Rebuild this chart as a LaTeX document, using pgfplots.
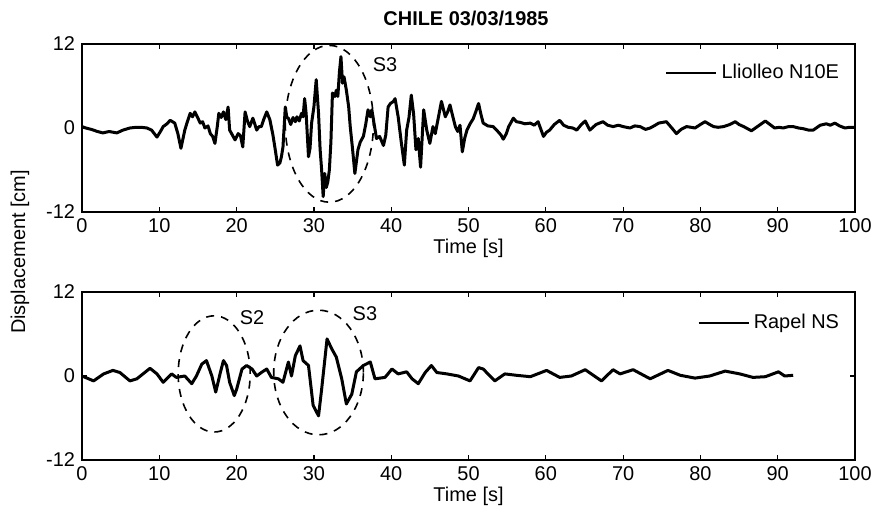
\documentclass[border=0pt]{standalone}
\usepackage{fontspec}
\setmainfont{Liberation Sans}
\usepackage{pgfplots}
\pgfplotsset{compat=1.18}
\begin{document}
\begin{tikzpicture}
\path[use as bounding box] (0bp,0bp) rectangle (438.5bp,-259bp);
\pgfplotsset{quake/.style={
  scale only axis, width=386.5bp, height=84bp,
  xmin=0, xmax=100, ymin=-12, ymax=12,
  xtick={0,10,...,100}, ytick={-12,0,12},
  tick align=inside, major tick length=2.5bp,
  axis line style={line width=0.7bp, black},
  every tick/.style={line width=0.6bp, black},
  tick label style={font=\fontsize{10}{12}\selectfont},
  label style={font=\fontsize{10}{12}\selectfont},
  xlabel={Time [s]}, xlabel style={yshift=4bp},
  /pgf/number format/assume math mode=true,
  legend style={draw=none, fill=none, anchor=north east, inner sep=0pt,
    font=\fontsize{10}{12}\selectfont},
  legend image code/.code={\draw[##1, line width=1.2bp] (0bp,0bp) -- (25bp,0bp);},
  cycle list={{black, no markers}},
  every axis plot/.append style={line width=1.5bp, line join=round},
}}
\begin{axis}[quake, at={(41bp,-106bp)}, anchor=south west,
  legend style={at={(0.985,0.905)}}]
\addplot coordinates {
(0,0.2)(0.5,0.0)(1.2,-0.2)(2.0,-0.5)(2.7,-0.7)(3.5,-0.5)(4.5,-0.7)(5.3,-0.3)
(6.2,0.0)(7.0,0.1)(7.7,0.1)(8.4,0.0)(9.0,-0.3)(9.7,-1.3)(10.2,-0.4)(10.5,0.2)
(11.0,0.6)(11.4,1.1)(12.0,0.7)(12.4,-0.8)(12.8,-2.9)(13.3,-0.3)(13.6,0.8)(14.0,2.1)
(14.3,1.6)(14.6,2.3)(15.0,1.4)(15.3,0.7)(15.6,0.9)(15.9,0.0)(16.3,0.3)(16.6,-0.8)
(16.9,-1.2)(17.2,-2.2)(17.5,0.2)(17.7,2.1)(18.0,1.5)(18.3,2.3)(18.6,1.2)(18.9,3.0)
(19.1,-0.3)(19.4,-0.9)(19.8,-1.7)(20.2,-0.8)(20.5,-1.1)(20.8,-2.7)(21.1,2.3)(21.4,1.0)
(21.7,0.2)(22.1,1.4)(22.4,0.4)(22.6,-0.3)(22.9,0.2)(23.2,0.2)(23.5,1.2)(23.9,2.3)
(24.3,1.2)(24.7,-1.0)(25.0,-3.1)(25.3,-5.3)(25.6,-5.0)(25.8,-4.1)(26.0,-2.7)(26.3,3.0)
(26.5,1.5)(26.7,1.4)(27.0,0.5)(27.3,1.5)(27.6,0.9)(27.8,1.6)(28.1,1.0)(28.4,2.1)
(28.6,1.6)(28.8,4.2)(29.0,2.0)(29.3,-4.1)(29.5,-2.9)(29.7,0.7)(30.0,3.0)(30.3,6.9)
(30.6,2.1)(30.8,-3.0)(31.0,-6.0)(31.2,-9.8)(31.4,-6.5)(31.6,-8.5)(31.8,-7.7)(32.0,-6.0)
(32.2,-2.0)(32.4,5.0)(32.7,4.5)(32.9,5.4)(33.1,4.5)(33.3,8.0)(33.5,10.2)(33.7,6.4)
(33.9,7.3)(34.2,5.4)(34.5,3.0)(34.7,0.2)(35.0,-3.0)(35.3,-6.5)(35.7,-3.1)(36.0,-2.0)
(36.4,-1.2)(36.7,0.5)(37.0,2.6)(37.3,1.6)(37.5,2.6)(37.8,0.5)(38.1,-1.5)(38.5,-1.2)
(39.0,-2.5)(39.3,-1.0)(39.6,3.0)(39.9,3.5)(40.3,3.8)(40.5,4.2)(40.9,1.6)(41.3,-2.0)
(41.7,-5.3)(42.0,-0.3)(42.3,1.5)(42.6,4.7)(42.9,2.0)(43.2,-3.1)(43.5,-1.5)(43.8,-5.6)
(44.2,2.6)(44.6,-0.3)(45.0,-2.2)(45.4,0.2)(45.7,-0.8)(46.1,1.5)(46.5,3.8)(47.0,1.6)
(47.3,2.3)(47.6,3.3)(48.0,1.5)(48.3,0.2)(48.6,-0.5)(48.9,0.4)(49.2,-3.4)(49.5,-1.5)
(49.8,-0.3)(50.2,0.6)(50.6,1.3)(51.0,2.5)(51.3,3.5)(51.6,2.0)(51.9,0.7)(52.5,0.3)
(53.2,0.2)(53.8,-0.5)(54.2,-1.0)(54.5,-1.6)(54.9,-0.8)(55.2,0.2)(55.5,0.8)(55.8,1.4)
(56.2,0.9)(56.7,0.8)(57.3,0.6)(58.0,0.7)(58.5,0.4)(59.0,0.9)(59.4,-0.3)(59.7,-1.2)
(60.1,-0.6)(60.5,-0.3)(61.1,0.5)(61.8,1.1)(62.3,0.4)(62.9,0.1)(63.5,0.0)(64.0,-0.3)
(64.6,0.5)(65.1,1.0)(65.7,-0.3)(66.5,0.5)(67.4,0.9)(68.0,0.4)(68.7,0.2)(69.4,0.4)
(70.0,0.2)(70.9,0.0)(71.5,0.3)(72.2,0.2)(72.9,-0.2)(73.5,0.0)(74.0,0.3)(74.6,0.7)
(75.6,0.9)(76.3,0.0)(76.9,-0.8)(77.5,-0.2)(78.2,0.2)(78.8,0.1)(79.3,0.0)(80.0,0.5)
(80.6,0.9)(81.2,0.5)(81.7,0.2)(82.3,0.1)(83.0,0.2)(83.8,0.5)(84.5,0.9)(85.0,0.5)
(85.6,0.2)(86.6,-0.4)(87.5,0.3)(88.4,1.0)(89.0,0.5)(89.6,0.0)(90.2,0.1)(90.7,0.0)
(91.4,0.2)(92.0,0.2)(92.7,0.0)(93.3,-0.1)(94.0,-0.3)(94.6,-0.3)(95.5,0.4)(96.3,0.6)
(96.8,0.4)(97.4,0.7)(98.0,0.3)(98.7,0.0)(99.3,0.1)(100,0.1)
};
\addlegendentry{Lliolleo N10E}
\draw[dash pattern=on 4bp off 3.5bp, line width=0.8bp] (axis cs:32,0.6) ellipse [x radius=5.7, y radius=11.2];
\node[font=\fontsize{10}{12}\selectfont] at (axis cs:39.2,9.0) {S3};
\end{axis}
\begin{axis}[quake, at={(41bp,-230bp)}, anchor=south west,
  legend style={at={(0.985,0.893)}}]
\addplot coordinates {
(0,0.0)(1.5,-0.7)(2.8,0.3)(4.0,0.8)(4.9,0.5)(6.2,-0.7)(7.1,-0.4)(8.8,1.1)
(9.7,0.3)(10.5,-0.9)(11.6,0.3)(12.2,-0.2)(13.3,0.0)(14.2,-1.1)(14.8,0.0)(15.5,1.7)
(16.1,2.2)(16.8,0.0)(17.3,-2.3)(17.9,0.5)(18.3,2.2)(18.7,1.5)(19.1,-0.9)(19.7,-2.8)
(20.0,-1.9)(20.7,1.0)(21.3,1.5)(22.0,1.0)(22.6,0.0)(23.2,0.5)(23.9,1.0)(24.5,-0.2)
(25.4,-0.4)(26.0,-0.9)(26.7,2.0)(27.1,0.0)(27.6,2.9)(28.2,4.3)(28.6,2.2)(29.3,1.5)
(29.9,-4.2)(30.6,-5.7)(31.0,-1.9)(31.7,5.3)(32.3,3.9)(32.9,2.7)(33.6,-0.4)(34.2,-4.0)
(34.9,-2.6)(35.5,0.6)(36.4,1.5)(37.3,2.0)(37.9,-0.4)(39.2,-0.2)(40.1,1.0)(40.9,0.3)
(42.0,0.6)(42.7,-0.4)(43.5,-1.1)(44.4,0.5)(45.2,1.5)(45.9,0.5)(47.2,0.3)(48.7,0.0)
(50.2,-0.7)(51.3,1.2)(51.9,1.0)(53.4,-0.7)(54.7,0.3)(56.2,0.1)(58.0,-0.1)(60.1,0.8)
(61.8,-0.2)(63.3,0.0)(65.1,0.9)(67.2,-0.7)(68.7,0.9)(69.6,0.3)(71.3,0.9)(73.5,-0.4)
(75.8,0.8)(77.4,0.1)(79.3,-0.3)(81.2,0.0)(83.2,0.7)(85.1,0.3)(86.8,-0.2)(88.4,-0.1)
(90.1,0.6)(90.9,0.0)(92.0,0.1)
};
\addlegendentry{Rapel NS}
\draw[dash pattern=on 4bp off 3.5bp, line width=0.8bp] (axis cs:17.1,0.3) ellipse [x radius=4.66, y radius=8.3];
\draw[dash pattern=on 4bp off 3.5bp, line width=0.8bp] (axis cs:30.6,0.5) ellipse [x radius=5.8, y radius=8.9];
\node[font=\fontsize{10}{12}\selectfont] at (axis cs:22,8.3) {S2};
\node[font=\fontsize{10}{12}\selectfont] at (axis cs:36.6,8.9) {S3};
\end{axis}
\node[font=\bfseries\fontsize{10}{12}\selectfont] at (233bp,-9bp) {CHILE 03/03/1985};
\node[rotate=90, font=\fontsize{10}{12}\selectfont] at (10bp,-126bp) {Displacement [cm]};
\end{tikzpicture}
\end{document}
